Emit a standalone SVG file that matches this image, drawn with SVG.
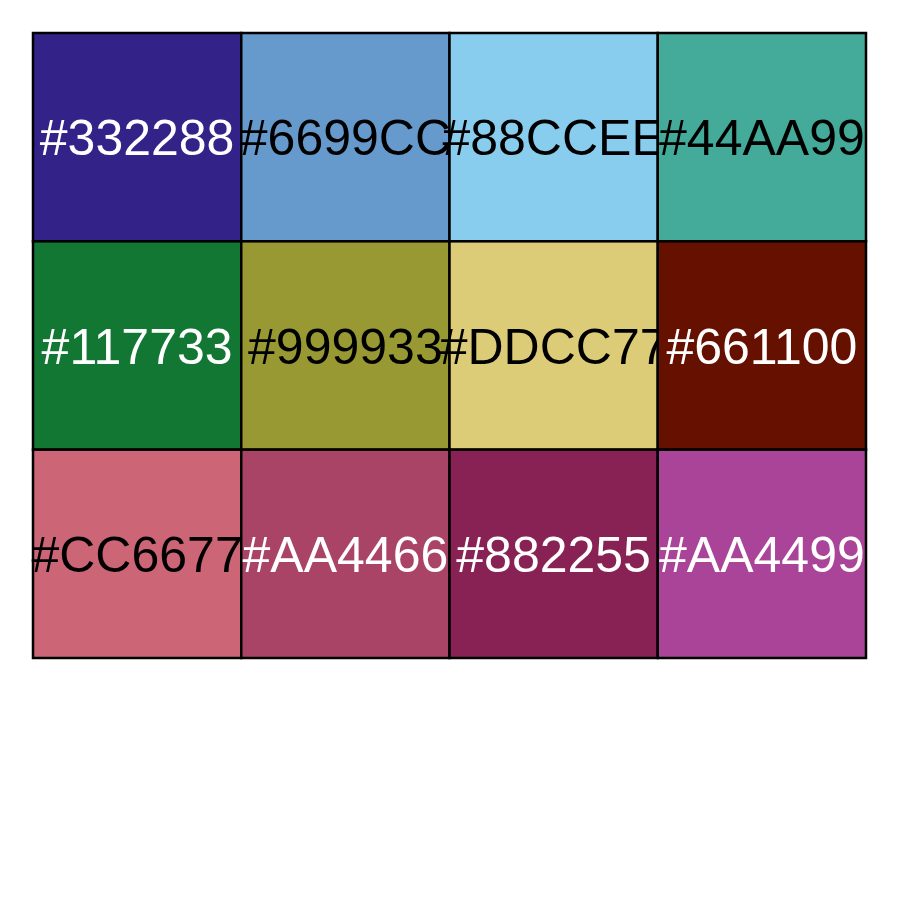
<svg xmlns="http://www.w3.org/2000/svg" width="900" height="900" viewBox="0 0 900 900">
<style>
rect.c{stroke:#000;stroke-width:2.5}
text{font-family:"Liberation Sans",Arial,sans-serif;font-size:50px;text-anchor:middle}
.w{fill:#fff}.b{fill:#000}
</style>
<rect width="900" height="900" fill="#fff"/>
<g id="n1"><rect class="c" x="33" y="33" width="208.25" height="208.33" fill="#332288"/><text class="w" x="137.1" y="155">#332288</text></g>
<g id="n2"><rect class="c" x="241.25" y="33" width="208.25" height="208.33" fill="#6699CC"/><text class="b" x="345.4" y="155">#6699CC</text></g>
<g id="n3"><rect class="c" x="449.5" y="33" width="208.25" height="208.33" fill="#88CCEE"/><text class="b" x="553.6" y="155">#88CCEE</text></g>
<g id="n4"><rect class="c" x="657.75" y="33" width="208.25" height="208.33" fill="#44AA99"/><text class="b" x="761.9" y="155">#44AA99</text></g>
<g id="n5"><rect class="c" x="33" y="241.33" width="208.25" height="208.33" fill="#117733"/><text class="w" x="137.1" y="363.5">#117733</text></g>
<g id="n6"><rect class="c" x="241.25" y="241.33" width="208.25" height="208.33" fill="#999933"/><text class="b" x="345.4" y="363.5">#999933</text></g>
<g id="n7"><rect class="c" x="449.5" y="241.33" width="208.25" height="208.33" fill="#DDCC77"/><text class="b" x="553.6" y="363.5">#DDCC77</text></g>
<g id="n8"><rect class="c" x="657.75" y="241.33" width="208.25" height="208.33" fill="#661100"/><text class="w" x="761.9" y="363.5">#661100</text></g>
<g id="n9"><rect class="c" x="33" y="449.67" width="208.25" height="208.33" fill="#CC6677"/><text class="b" x="137.1" y="572">#CC6677</text></g>
<g id="n10"><rect class="c" x="241.25" y="449.67" width="208.25" height="208.33" fill="#AA4466"/><text class="w" x="345.4" y="572">#AA4466</text></g>
<g id="n11"><rect class="c" x="449.5" y="449.67" width="208.25" height="208.33" fill="#882255"/><text class="w" x="553.6" y="572">#882255</text></g>
<g id="n12"><rect class="c" x="657.75" y="449.67" width="208.25" height="208.33" fill="#AA4499"/><text class="w" x="761.9" y="572">#AA4499</text></g>
<g id="connectors"/>
</svg>
